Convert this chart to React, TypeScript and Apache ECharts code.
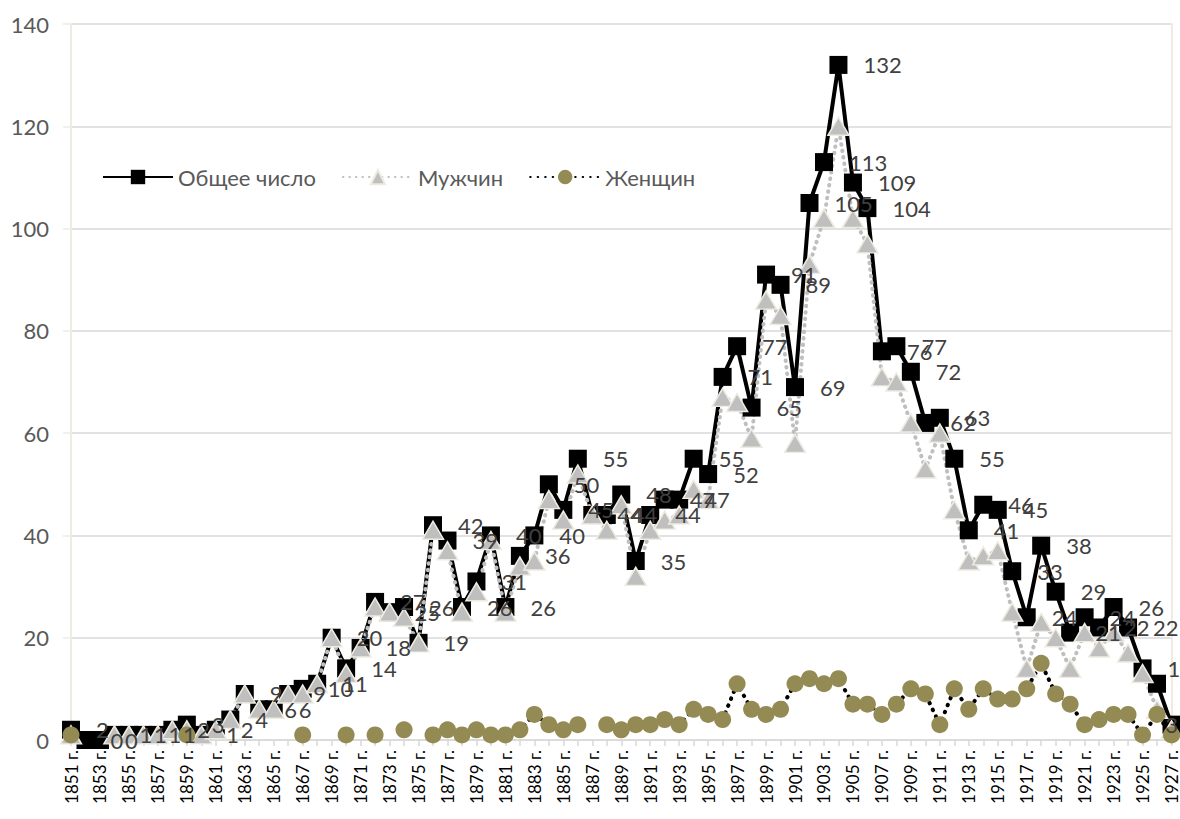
import React, { useEffect, useRef } from "react";
import * as echarts from "echarts";

const years: string[] = [
  "1851 г.", "1852 г.", "1853 г.", "1854 г.", "1855 г.", "1856 г.", "1857 г.", "1858 г.", "1859 г.", "1860 г.",
  "1861 г.", "1862 г.", "1863 г.", "1864 г.", "1865 г.", "1866 г.", "1867 г.", "1868 г.", "1869 г.", "1870 г.",
  "1871 г.", "1872 г.", "1873 г.", "1874 г.", "1875 г.", "1876 г.", "1877 г.", "1878 г.", "1879 г.", "1880 г.",
  "1881 г.", "1882 г.", "1883 г.", "1884 г.", "1885 г.", "1886 г.", "1887 г.", "1888 г.", "1889 г.", "1890 г.",
  "1891 г.", "1892 г.", "1893 г.", "1894 г.", "1895 г.", "1896 г.", "1897 г.", "1898 г.", "1899 г.", "1900 г.",
  "1901 г.", "1902 г.", "1903 г.", "1904 г.", "1905 г.", "1906 г.", "1907 г.", "1908 г.", "1909 г.", "1910 г.",
  "1911 г.", "1912 г.", "1913 г.", "1914 г.", "1915 г.", "1916 г.", "1917 г.", "1918 г.", "1919 г.", "1920 г.",
  "1921 г.", "1922 г.", "1923 г.", "1924 г.", "1925 г.", "1926 г.", "1927 г.",
];

const total: number[] = [
  2, 0, 0, 1, 1, 1, 1, 2, 3, 1,
  2, 4, 9, 6, 6, 9, 10, 11, 20, 14,
  18, 27, 25, 26, 19, 42, 39, 26, 31, 40,
  26, 36, 40, 50, 45, 55, 44, 44, 48, 35,
  44, 47, 47, 55, 52, 71, 77, 65, 91, 89,
  69, 105, 113, 132, 109, 104, 76, 77, 72, 62,
  63, 55, 41, 46, 45, 33, 24, 38, 29, 21,
  24, 22, 26, 22, 14, 11, 3,
];

const men: (number | null)[] = [
  1, null, null, 1, 1, 1, 1, 2, 2, 1,
  2, 4, 9, 6, 6, 9, 9, 11, 20, 13,
  18, 26, 25, 24, 19, 41, 37, 25, 29, 39,
  25, 34, 35, 47, 43, 52, 44, 41, 46, 32,
  41, 43, 44, 49, 47, 67, 66, 59, 86, 83,
  58, 93, 102, 120, 102, 97, 71, 70, 62, 53,
  60, 45, 35, 36, 37, 25, 14, 23, 20, 14,
  21, 18, 21, 17, 13, 6, 2,
];

const women: (number | null)[] = [
  1, null, null, null, null, null, null, null, 1, null,
  null, null, null, null, null, null, 1, null, null, 1,
  null, 1, null, 2, null, 1, 2, 1, 2, 1,
  1, 2, 5, 3, 2, 3, null, 3, 2, 3,
  3, 4, 3, 6, 5, 4, 11, 6, 5, 6,
  11, 12, 11, 12, 7, 7, 5, 7, 10, 9,
  3, 10, 6, 10, 8, 8, 10, 15, 9, 7,
  3, 4, 5, 5, 1, 5, 1,
];

const yTicks = { min: 0, max: 140, interval: 20 };
const seriesNames = ["Общее число", "Мужчин", "Женщин"];

const FONT = 'Lato, "Noto Sans", sans-serif';

export default function App() {
  const ref = useRef<HTMLDivElement>(null);

  useEffect(() => {
    if (!ref.current) return;
    const chart = echarts.init(ref.current, undefined, { renderer: "svg" });
    const lastIdx = total.length - 1;
    const totalData = total.map((v, i) =>
      i === lastIdx
        ? { value: v, label: { position: "inside", offset: [5, 1] } }
        : v
    );
    chart.setOption({
      animation: false,
      backgroundColor: "#ffffff",
      textStyle: { fontFamily: FONT },
      grid: { left: 71, right: 8, top: 24, bottom: 79, containLabel: false },
      legend: {
        left: 97,
        top: 161,
        itemWidth: 70,
        itemHeight: 18,
        itemGap: 26,
        textStyle: { fontSize: 22, color: "#595959", fontFamily: FONT },
        data: seriesNames,
      },
      xAxis: {
        type: "category",
        data: years,
        boundaryGap: false,
        axisLine: { show: true, lineStyle: { color: "#d9d9d9", width: 1.5 } },
        axisTick: { show: true, interval: 0, length: 6, lineStyle: { color: "#d9d9d9", width: 1.5 } },
        axisLabel: {
          interval: 1,
          rotate: 90,
          fontSize: 17,
          color: "#000000",
          margin: 10,
          fontFamily: FONT,
        },
        splitLine: { show: false },
      },
      yAxis: [
        {
          type: "value",
          min: yTicks.min,
          max: yTicks.max,
          interval: yTicks.interval,
          axisLine: { show: true, lineStyle: { color: "#eeece1", width: 2 } },
          axisTick: { show: true, length: 8, lineStyle: { color: "#eeece1", width: 1.5 } },
          axisLabel: { fontSize: 22, color: "#595959", margin: 22, fontFamily: FONT },
          splitLine: { show: true, lineStyle: { color: "#d9d9d9", width: 1.5 } },
        },
        {
          type: "value",
          position: "right",
          min: yTicks.min,
          max: yTicks.max,
          interval: yTicks.interval,
          axisLine: { show: true, lineStyle: { color: "#eeece1", width: 2 } },
          axisTick: { show: false },
          axisLabel: { show: false },
          splitLine: { show: false },
        },
      ],
      series: [
        {
          name: seriesNames[0],
          type: "line",
          data: totalData,
          symbol: "rect",
          symbolSize: 18,
          showAllSymbol: true,
          itemStyle: { color: "#000000" },
          lineStyle: { color: "#000000", width: 4 },
          label: {
            show: true,
            position: "right",
            distance: 16,
            fontSize: 22,
            color: "#404040",
            fontFamily: FONT,
          },
          labelLayout: { hideOverlap: false },
        },
        {
          name: seriesNames[1],
          type: "line",
          data: men,
          symbol: "triangle",
          symbolSize: [21, 18],
          showAllSymbol: true,
          itemStyle: { color: "#bfbfbf", borderColor: "#eeece1", borderWidth: 1.5 },
          lineStyle: { color: "#bfbfbf", width: 4, type: [0.5, 6], cap: "round" },
        },
        {
          name: seriesNames[2],
          type: "line",
          data: women,
          symbol: "circle",
          symbolSize: 17,
          showAllSymbol: true,
          itemStyle: { color: "#948a54" },
          lineStyle: { color: "#000000", width: 4, type: [0.5, 7], cap: "round" },
        },
      ],
    });
    return () => chart.dispose();
  }, []);

  return (
    <div
      ref={ref}
      style={{ position: "absolute", left: 0, top: 0, width: 1180, height: 819, background: "#fff" }}
    />
  );
}
